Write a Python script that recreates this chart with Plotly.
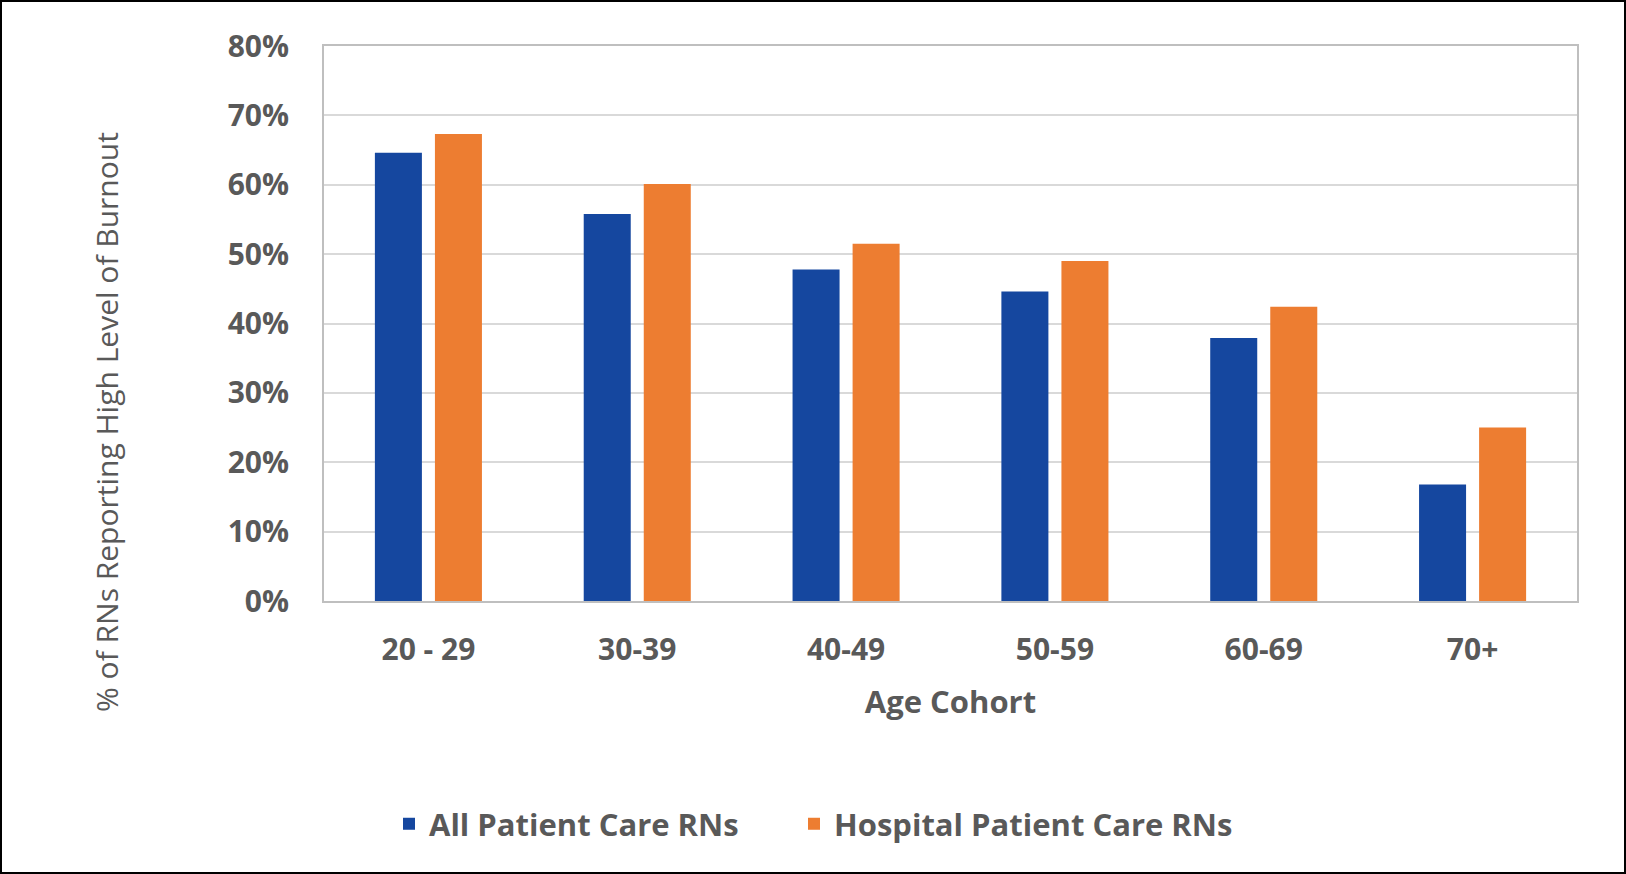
import plotly.graph_objects as go

# data
age_cohorts = ["20 - 29", "30-39", "40-49", "50-59", "60-69", "70+"]
all_rns = [64.6, 55.8, 47.8, 44.6, 37.9, 16.8]
hospital_rns = [67.3, 60.1, 51.5, 49.0, 42.4, 25.0]
y_ticks = [0, 10, 20, 30, 40, 50, 60, 70, 80]

GREY = "#595959"
FONT = "Open Sans"

W, H = 1626, 874
ML, MR, MT, MB = 324, 49, 46, 273
PW, PH = W - ML - MR, H - MT - MB

fig = go.Figure()
fig.add_trace(go.Bar(
    x=age_cohorts, y=all_rns, name="All Patient Care RNs",
    marker=dict(color="#15479F", line=dict(width=0)),
    legendwidth=360,
))
fig.add_trace(go.Bar(
    x=age_cohorts, y=hospital_rns, name="Hospital Patient Care RNs",
    marker=dict(color="#ED7D31", line=dict(width=0)),
))

fig.update_layout(
    width=W, height=H,
    margin=dict(l=ML, r=MR, t=MT, b=MB),
    paper_bgcolor="white", plot_bgcolor="white",
    barmode="group", bargap=0.425, bargroupgap=0.217,
    font=dict(family=FONT, color=GREY),
    showlegend=True,
    legend=dict(
        orientation="h", x=(389 - ML) / PW, xanchor="left", y=-0.402, yanchor="middle",
        font=dict(size=31, weight="bold", color=GREY),
        itemwidth=30, traceorder="normal",
    ),
)

fig.update_xaxes(
    showline=True, linecolor="#BFBFBF", linewidth=2, mirror=True,
    tickfont=dict(size=30, weight="bold", color=GREY),
    ticklabelstandoff=21,
    title=dict(text="Age Cohort", font=dict(size=31, weight="bold", color=GREY), standoff=23),
)
fig.update_yaxes(
    range=[0, 80], tickvals=y_ticks, ticktext=[f"{v}%" for v in y_ticks],
    showgrid=True, gridcolor="#D9D9D9", gridwidth=2,
    showline=True, linecolor="#BFBFBF", linewidth=2, mirror=True,
    zeroline=False,
    tickfont=dict(size=30, weight="bold", color=GREY),
    ticklabelstandoff=27,
)

# y title placed like the original (lower than plot centre)
fig.add_annotation(
    text="% of RNs Reporting High Level of Burnout",
    xref="paper", yref="paper",
    x=(106 - ML) / PW, y=(MT + PH - 422) / PH,
    xanchor="center", yanchor="middle", textangle=-90, showarrow=False,
    font=dict(size=30, color=GREY, family=FONT),
)

# black frame around the whole picture
fig.add_shape(
    type="rect", xref="paper", yref="paper",
    x0=-(ML - 1) / PW, x1=1 + (MR - 1) / PW,
    y0=-(MB - 1) / PH, y1=1 + (MT - 1) / PH,
    line=dict(color="black", width=2), layer="above",
)

# page has a default 8px body margin; drop it so the figure fills the window
fig.write_html(
    "out.html",
    config={"displayModeBar": False},
    post_script="document.body.style.margin='0';",
)
